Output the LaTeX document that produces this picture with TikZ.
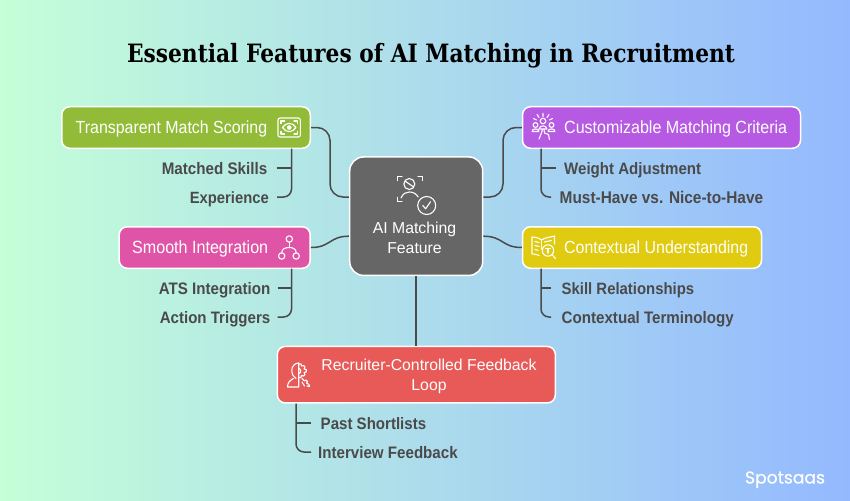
\documentclass[tikz,border=0pt]{standalone}
\usepackage{fontspec}
\setmainfont{Liberation Sans}
\newfontfamily\titlefont{DejaVu Serif}
\newfontfamily\logofont[FakeBold=0.5]{Poppins}
\usetikzlibrary{calc}
\definecolor{bgl}{RGB}{196,255,216}
\definecolor{bgm}{RGB}{172,220,232}
\definecolor{bgr}{RGB}{148,185,255}
\definecolor{ink}{RGB}{74,74,74}
\definecolor{cgreen}{RGB}{146,188,56}
\definecolor{cpink}{RGB}{223,84,166}
\definecolor{cpurple}{RGB}{182,89,227}
\definecolor{cyellow}{RGB}{224,203,16}
\definecolor{cred}{RGB}{231,90,88}
\definecolor{cgray}{RGB}{102,102,102}
\newcommand{\tw}[2]{\scalebox{1}[1.1]{\resizebox{#1pt}{!}{#2}}}
\newcommand{\twt}[2]{\scalebox{1}[1.16]{\resizebox{#1pt}{!}{#2}}}
\newcommand{\twl}[2]{\resizebox{#1pt}{!}{#2}}
\tikzset{
  box/.style={draw=white,line width=1.5pt,rounded corners=8pt,inner sep=0pt},
  boxtext/.style={text=white,inner sep=0pt,font=\fontsize{15}{20}\selectfont,text height=11pt,text depth=0pt},
  multitext/.style={text=white,inner sep=0pt,align=center,font=\fontsize{15.8}{20}\selectfont},
  sublabel/.style={text=ink,inner sep=0pt,font=\bfseries\fontsize{14.5}{16}\selectfont,text height=12pt,text depth=0pt},
  conn/.style={draw=ink,line width=1.5pt},
  icon/.style={draw=white,line width=1.1pt,line cap=round,line join=round,fill=none}
}
\begin{document}
\begin{tikzpicture}[x=1pt,y=-1pt]
\useasboundingbox (0,0) rectangle (850,500);
\shade[left color=bgl,middle color=bgm,right color=bgr] (0,0) rectangle (850,500);

\node[inner sep=0pt,text=black,font=\titlefont\bfseries\fontsize{22}{26}\selectfont,text height=16pt,text depth=0pt] (title) at (431,54.5) {\twt{608}{Essential Features of AI Matching in Recruitment}};

% boxes
\node[box,fill=cgray,rounded corners=14pt,minimum width=133pt,minimum height=118.5pt] (core) at (416.2,216.2) {};
\node[box,fill=cgreen,minimum width=248.5pt,minimum height=41.5pt] (tms) at (186,127.5) {};
\node[box,fill=cpink,minimum width=191pt,minimum height=41.5pt] (smi) at (214.7,247.5) {};
\node[box,fill=cpurple,minimum width=278pt,minimum height=41.5pt] (cmc) at (661.5,127.5) {};
\node[box,fill=cyellow,minimum width=239pt,minimum height=41.5pt] (ctx) at (642,247.5) {};
\node[box,fill=cred,minimum width=278pt,minimum height=56.5pt] (rfl) at (416.3,374.7) {};

% box texts
\node[multitext] (coret) at (414.5,238) {AI Matching\\Feature};
\node[boxtext,anchor=west] (tmst) at (75.5,127.5) {\tw{191.5}{Transparent Match Scoring}};
\node[boxtext,anchor=west] (smit) at (132,247.5) {\tw{136}{Smooth Integration}};
\node[boxtext,anchor=west] (cmct) at (564,127.5) {\tw{223}{Customizable Matching Criteria}};
\node[boxtext,anchor=west] (ctxt) at (564,247.5) {\tw{184}{Contextual Understanding}};
\node[multitext] (rflt) at (429,376.3) {Recruiter-Controlled Feedback\\Loop};

% sub labels
\node[sublabel,anchor=east] (ms) at (267.5,168) {\tw{105.5}{Matched Skills}};
\node[sublabel,anchor=east] (ex) at (269,197) {\tw{79}{Experience}};
\node[sublabel,anchor=east] (ats) at (270.5,288) {\tw{111.5}{ATS Integration}};
\node[sublabel,anchor=east] (act) at (270.5,317) {\tw{110.5}{Action Triggers}};
\node[sublabel,anchor=west] (wa) at (564,168) {\tw{137}{Weight Adjustment}};
\node[sublabel,anchor=west] (mh) at (559.5,197) {\tw{203.5}{Must-Have vs. Nice-to-Have}};
\node[sublabel,anchor=west] (sr) at (561.5,288) {\tw{132.5}{Skill Relationships}};
\node[sublabel,anchor=west] (ct) at (561.5,317) {\tw{172}{Contextual Terminology}};
\node[sublabel,anchor=west] (ps) at (320.5,423) {\tw{105.5}{Past Shortlists}};
\node[sublabel,anchor=west] (iv) at (318,452) {\tw{139.5}{Interview Feedback}};

\node[inner sep=0pt,text=white,font=\logofont\fontsize{16}{18}\selectfont,text height=11pt,text depth=0pt] (logo) at (785,478) {\twl{80}{Spotsaas}};

% anchors on the central node
\coordinate (cw1) at ($(core.west)+(0,-19.2)$);
\coordinate (cw2) at ($(core.west)+(0,20)$);
\coordinate (ce1) at ($(core.east)+(0,-19.2)$);
\coordinate (ce2) at ($(core.east)+(0,20)$);
\coordinate (jl) at (330,160);
\coordinate (jr) at (503,160);
\coordinate (tmsb) at (291.5,148.7);
\coordinate (smib) at (291.5,268.7);
\coordinate (cmcb) at (541,148.7);
\coordinate (ctxb) at (541,268.7);
\coordinate (rflb) at (296,403.5);

% main connectors
\draw[conn,rounded corners=13pt] (tms.east) -| (jl) |- (cw1);
\draw[conn,rounded corners=13pt] (cmc.west) -| (jr) |- (ce1);
\draw[conn] (smi.east) .. controls +(20,0) and +(-20,0) .. (cw2);
\draw[conn] (ce2) .. controls +(20,0) and +(-20,0) .. (ctx.west);
\draw[conn] (core.south) -- (core.south |- rfl.north);

% sub connectors
\draw[conn,rounded corners=8pt] (tmsb) |- ([xshift=8pt]ex.east);
\draw[conn] ([xshift=9pt]ms.east) -- (tmsb |- ms.east);
\draw[conn,rounded corners=8pt] (smib) |- ([xshift=7pt]act.east);
\draw[conn] ([xshift=7pt]ats.east) -- (smib |- ats.east);
\draw[conn,rounded corners=8pt] (cmcb) |- ([xshift=-8.5pt]mh.west);
\draw[conn] ([xshift=-8pt]wa.west) -- (cmcb |- wa.west);
\draw[conn,rounded corners=8pt] (ctxb) |- ([xshift=-10.5pt]ct.west);
\draw[conn] ([xshift=-10.5pt]sr.west) -- (ctxb |- sr.west);
\draw[conn,rounded corners=8pt] (rflb) |- ([xshift=-7pt]iv.west);
\draw[conn] ([xshift=-9.5pt]ps.west) -- (rflb |- ps.west);

\begin{scope}[icon]
% icon: eye
\draw[rounded corners=2pt] (278,118) rectangle (300.3,137);
\draw (281,123.5) -- (281,121) -- (284.5,121) (294,121) -- (297.3,121) -- (297.3,123.5)
      (281,131.5) -- (281,134) -- (284.5,134) (294,134) -- (297.3,134) -- (297.3,131.5);
\draw (282.5,127.5) .. controls (286,122) and (292.5,122) .. (296,127.5) .. controls (292.5,133) and (286,133) .. (282.5,127.5) -- cycle;
\fill[white] (289.2,127.5) circle (2.3pt);
% icon: network
\draw (289.3,239) circle (3.2pt);
\draw (281.7,256) circle (3.2pt);
\draw (296.2,256) circle (3.2pt);
\draw (289.3,242.2) -- (289.3,247.5);
\draw (281.7,252.8) .. controls (281.7,249) and (285,247.5) .. (289.3,247.5) .. controls (293,247.5) and (296.2,249) .. (296.2,252.8);
% icon: central person
\draw (397.5,180.5) -- (397.5,176.3) -- (402,176.3) (417.8,176.3) -- (422.3,176.3) -- (422.3,180.5)
      (397.5,197.5) -- (397.5,201.7) -- (402,201.7);
\draw (409.3,184) circle (5.5pt);
\draw (405.2,181.2) -- (413.4,186.8);
\draw (401,198) .. controls (403,193.5) and (406,192) .. (409.3,192) .. controls (413,192) and (416,193.5) .. (418.2,197);
\draw (426.7,205.5) circle (9pt);
\draw (422.8,205.5) -- (425.6,208.8) -- (430.5,201.8);
% icon: people and rays
\draw (535.5,125) circle (2.4pt);
\draw (543,121) circle (2.8pt);
\draw (551.5,125) circle (2.4pt);
\draw (532,131.5) .. controls (532,128) and (539,128) .. (539,131.5) -- cycle;
\draw (548,131.5) .. controls (548,128) and (555,128) .. (555,131.5) -- cycle;
\draw (539,129) .. controls (539.5,124.8) and (546.5,124.8) .. (547,129) -- (539,129);
\draw (539,139) -- (541,134) -- (542.5,129.5);
\draw (549.5,139.5) -- (548.5,134.5) -- (544.5,133) -- (544,129.5);
\draw (543,113.5) -- (543,116.5) (537,114.5) -- (539,117.5) (549,114.5) -- (547,117.5) (533.5,118.5) -- (536.5,120) (552.5,118.5) -- (549.5,120);
% icon: book and lens
\draw (541.5,240) .. controls (538,237.5) and (535,237) .. (532,237) -- (532,254) .. controls (535,254) and (537,254.5) .. (539,255.5);
\draw (541.5,240) .. controls (545,237.5) and (551,237) .. (554.5,236) -- (554.5,244);
\draw (541.5,240) -- (541.5,249);
\draw (535,241.5) -- (539,242.5) (535,245.5) -- (539,246.5) (535,249.5) -- (538,250.3)
      (544.5,242) -- (551.5,240.5);
\draw (548,250.5) circle (5.7pt);
\draw (552.2,254.7) -- (555.5,258.5);
\draw (545.5,248.3) -- (550.5,248.3) (548,248.3) -- (548,253);
% icon: person with gear
\draw (298.7,363) -- (298.7,387) -- (287.5,387) .. controls (287.5,383) and (289.5,380.5) .. (293.5,378.5);
\draw (298.7,363) .. controls (294.5,363) and (291.8,366.5) .. (291.8,370.5) .. controls (291.8,374) and (293.5,377) .. (296,378.5);
\draw (298.7,364) -- (301,364) -- (301.5,366) -- (303.5,365.5) -- (305,367) -- (304,369) -- (306.2,369.5) -- (306.2,372) -- (304,372.5) -- (305,374.5) -- (303.5,376) -- (301.5,375.5) -- (301,377.5) -- (298.7,377.5);
\draw (298.7,368.5) .. controls (301.5,368.5) and (301.5,373.5) .. (298.7,373.5);
\draw (302,378.5) -- (304.5,381) -- (306,380) -- (307.5,381.5) -- (306.5,383) -- (309,384.5) -- (309.5,386.5) -- (307,386);
\draw (302,382) -- (304.5,386);
\end{scope}
\end{tikzpicture}
\end{document}
